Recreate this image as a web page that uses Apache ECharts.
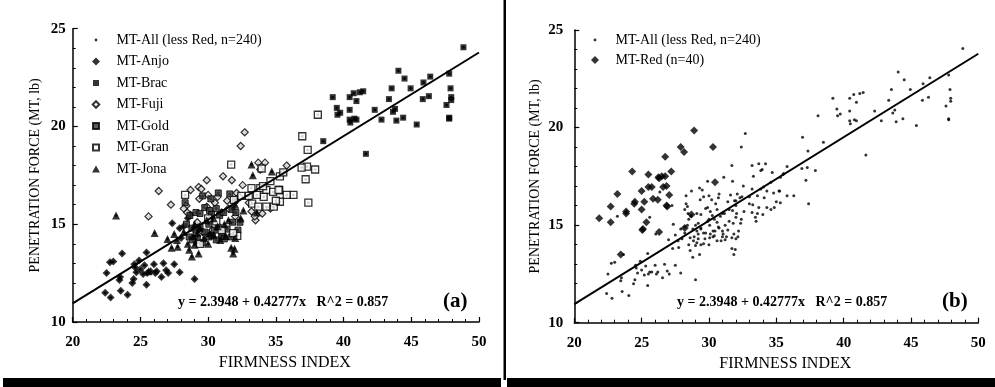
<!DOCTYPE html>
<html>
<head>
<meta charset="utf-8">
<script src="https://cdn.jsdelivr.net/npm/echarts@6/dist/echarts.min.js"></script>
<style>
  html, body { margin: 0; padding: 0; background: #fff; }
  #chart { width: 995px; height: 387px; }
</style>
</head>
<body>
<div id="chart"></div>
<script>
// Firmness index vs. Magness-Taylor penetration force, by cultivar
const xTicks = [20, 25, 30, 35, 40, 45, 50];
const yTicks = [10, 15, 20, 25];

const anjo = [
  [22.5,12.5],[22.4,11.5],[22.8,11.25],[22.75,13.05],[23.0,13.1],[23.45,12.15],[23.5,12.3],[23.55,11.6],
  [23.65,13.5],[24.05,11.4],[24.4,12.0],[24.5,12.2],[24.55,12.95],[24.9,13.15],[25.0,12.7],[25.3,12.9],
  [25.45,13.55],[25.45,11.9],[25.5,12.5],[25.75,12.6],[26.0,12.95],[26.1,12.5],[26.7,13.0],[26.9,12.65],
  [26.55,12.3],[27.05,12.5],[27.5,12.95],[27.9,12.55],[29.0,12.2],[25.2,12.45],[24.7,12.55],[26.2,12.6],
  [27.35,15.05],[27.9,14.8],[28.2,14.9],[28.5,15.3],[28.7,15.5],[28.0,14.3],[29.1,14.1],[24.6,12.8]
];
const brac = [
  [48.85,24.05],[44.05,22.85],[44.5,22.45],[43.55,21.95],[44.95,21.95],[45.9,22.25],[46.4,22.55],[47.8,22.7],
  [47.9,21.95],[47.95,21.5],[47.6,21.1],[47.8,20.4],[46.3,21.55],[45.85,21.4],[43.35,21.4],[43.65,20.75],
  [43.9,20.3],[44.4,20.45],[45.4,20.1],[42.8,20.35],[42.3,20.85],[41.45,21.8],[41.2,21.75],[40.75,21.7],
  [40.95,21.3],[40.45,21.5],[40.45,20.85],[40.45,20.35],[40.5,20.2],[40.95,20.35],[39.2,21.5],[39.5,20.95],
  [39.75,20.7],[39.55,20.6],[41.65,18.6],[38.5,19.25],[47.8,20.45],[47.95,21.35],[40.8,20.4],[43.8,20.9]
];
const fuji = [
  [25.6,15.4],[26.35,16.7],[27.25,16.0],[28.4,15.95],[28.7,16.75],[29.3,16.9],[29.9,17.25],[31.1,17.45],
  [31.75,17.25],[32.4,19.0],[32.7,19.7],[32.55,17.0],[33.7,18.15],[34.2,18.15],[35.8,18.0],[33.2,15.65],
  [33.5,15.2],[33.45,15.4],[29.5,16.8],[30.0,16.5],[28.2,15.8],[28.45,15.6],[29.9,15.9],[30.5,16.1],
  [31.4,16.2],[32.1,16.6],[29.2,15.1],[29.6,14.6],[30.3,14.7],[31.0,15.6],[31.5,15.8],[32.3,16.4],
  [33.85,17.8],[34.0,15.55],[29.35,16.3],[30.7,16.4],[33.0,16.1],[35.5,17.6],[34.6,15.8],[32.0,15.4]
];
const gold = [
  [30.75,16.6],[32.35,15.1],[28.65,15.45],[28.4,15.0],[28.8,14.8],[29.1,14.7],[29.4,14.85],[29.75,14.6],
  [30.05,15.0],[30.45,14.7],[30.75,14.85],[31.05,14.55],[31.4,14.75],[31.8,15.1],[32.2,14.7],[29.1,15.6],
  [29.4,15.55],[29.75,15.85],[30.1,15.7],[30.25,15.5],[30.6,15.8],[30.85,15.45],[31.15,15.6],[31.75,15.75],
  [32.05,15.6],[29.2,14.3],[29.6,14.05],[30.05,14.35],[30.3,14.4],[30.6,14.2],[31.0,14.4],[31.2,14.25],
  [31.7,14.35],[28.6,14.35],[28.85,14.2],[32.0,16.25],[31.6,16.55],[30.2,16.3],[29.6,16.45],[28.3,16.1]
];
const gran = [
  [28.3,16.5],[31.7,18.05],[36.95,19.5],[37.35,18.8],[38.1,20.6],[37.9,17.8],[37.3,17.95],[37.2,17.3],
  [37.4,16.1],[36.3,16.5],[35.8,16.5],[35.25,16.75],[33.85,16.85],[34.3,16.75],[34.8,16.65],[33.25,16.05],
  [33.7,15.9],[34.3,15.9],[34.85,15.9],[35.3,16.15],[34.1,16.4],[33.6,16.5],[34.6,17.2],[35.3,17.45],
  [35.55,17.65],[32.15,14.4],[31.85,14.55],[31.0,14.7],[30.6,15.15],[33.2,16.85],[34.05,16.95],[35.0,16.2],
  [33.0,16.45],[36.9,17.9],[35.2,16.75],[32.45,16.45],[33.95,17.85],[31.9,16.25],[30.0,15.3],[29.4,14.0]
];
const jona = [
  [23.2,15.45],[26.05,14.55],[27.3,13.8],[27.75,13.85],[28.8,13.35],[29.3,13.5],[29.2,14.55],[30.4,14.45],
  [31.85,13.5],[31.95,13.75],[33.2,18.05],[33.3,17.5],[34.7,17.7],[29.4,14.8],[27.7,14.2],[25.6,12.6],
  [27.0,14.25],[28.5,14.0],[29.0,13.95],[29.7,14.3],[30.1,14.55],[30.7,14.9],[31.3,14.4],[31.7,13.8],
  [32.0,14.3],[28.2,14.6],[29.9,15.2],[30.4,15.3],[31.2,15.0],[32.4,15.3],[32.6,15.7],[29.0,15.0],
  [28.9,14.4],[30.9,14.2],[31.5,15.2],[27.5,14.5],[33.6,15.6],[32.0,16.0],[30.0,14.0],[28.6,13.7]
];
const red = [
  [21.85,15.35],[22.7,15.95],[22.7,15.15],[23.2,16.6],[23.45,13.5],[23.85,15.7],[23.85,15.6],[24.3,17.75],
  [24.5,16.2],[25.0,16.75],[25.0,15.8],[25.1,14.8],[25.2,16.2],[25.35,15.15],[25.5,17.6],[25.5,16.95],
  [25.75,16.95],[25.85,16.35],[26.2,16.3],[26.25,17.45],[26.3,14.65],[26.5,17.5],[26.6,16.95],[26.75,17.5],
  [26.75,18.5],[26.85,17.0],[26.9,15.95],[27.05,16.55],[27.2,17.75],[27.9,19.0],[28.15,18.75],[28.9,19.85],
  [30.3,19.0],[30.45,17.2],[28.2,14.85],[28.7,15.55],[25.05,14.75],[26.85,16.0],[24.45,16.1],[26.3,17.4]
];
// all cultivars except Red Delicious (n = 240)
const mtAll = anjo.concat(brac, fuji, gold, gran, jona);

// least-squares fit on mtAll
const FIT_A = 2.3948;
const FIT_B = 0.42777;
const FIT_R2 = 0.857;
const fitLine = [[20, FIT_A + FIT_B * 20], [50, FIT_A + FIT_B * 50]];
const eqText = 'y = ' + FIT_A + ' + ' + FIT_B + 'x   R^2 = ' + FIT_R2;

const NAMES = {
  all: 'MT-All (less Red, n=240)', anjo: 'MT-Anjo', brac: 'MT-Brac', fuji: 'MT-Fuji',
  gold: 'MT-Gold', gran: 'MT-Gran', jona: 'MT-Jona', red: 'MT-Red (n=40)'
};

const SERIF = '"Liberation Serif", "DejaVu Serif", serif';

// Legend glyphs drawn in a 31x8 box (corner moves fix the box) so they are not stretched
const BOX = 'path://M0,0M31,8';
const ICON = {
  dot: BOX + 'M14.1,4a1.4,1.4 0 1,0 2.8,0a1.4,1.4 0 1,0 -2.8,0',
  diamond: BOX + 'M15.5,0L19.5,4L15.5,8L11.5,4Z',
  smallDiamond: BOX + 'M15.5,0.7L18.8,4L15.5,7.3L12.2,4Z',
  square: BOX + 'M12.5,1L18.5,1L18.5,7L12.5,7Z',
  triangle: BOX + 'M15.5,0.5L19.5,7.5L11.5,7.5Z'
};

function xAxisDef(gridIndex) {
  return {
    gridIndex, type: 'value', min: xTicks[0], max: xTicks[xTicks.length - 1], interval: 5,
    name: 'FIRMNESS INDEX', nameLocation: 'middle', nameGap: 26,
    nameTextStyle: { fontFamily: SERIF, fontSize: 16, color: '#000', padding: [0, 0, 0, 18] },
    axisLine: { lineStyle: { color: '#000', width: 1.5 } },
    axisTick: { inside: true, length: 5, lineStyle: { color: '#000', width: 1.2 } },
    minorTick: { show: true, splitNumber: 5, length: 3, lineStyle: { color: '#000', width: 1 } },
    splitLine: { show: false },
    axisLabel: { fontFamily: SERIF, fontWeight: 'bold', fontSize: 15, color: '#000', margin: 13 }
  };
}
function yAxisDef(gridIndex, gap, labelMargin) {
  return {
    gridIndex, type: 'value', min: yTicks[0], max: yTicks[yTicks.length - 1], interval: 5,
    name: 'PENETRATION FORCE (MT, lb)', nameLocation: 'middle', nameGap: gap,
    nameTextStyle: { fontFamily: SERIF, fontSize: 14, color: '#000' },
    axisLine: { lineStyle: { color: '#000', width: 1.5 } },
    axisTick: { inside: true, length: 5, lineStyle: { color: '#000', width: 1.2 } },
    minorTick: { show: true, splitNumber: 5, length: 3, lineStyle: { color: '#000', width: 1 } },
    splitLine: { show: false },
    axisLabel: { fontFamily: SERIF, fontWeight: 'bold', fontSize: 15, color: '#000', margin: labelMargin }
  };
}

function scatter(name, data, idx, symbol, size, style) {
  return {
    type: 'scatter', name, data, xAxisIndex: idx, yAxisIndex: idx,
    symbol, symbolSize: size, itemStyle: style, z: 3,
    emphasis: { disabled: true }, animation: false
  };
}
function fit(idx) {
  return {
    type: 'line', data: fitLine, xAxisIndex: idx, yAxisIndex: idx, symbol: 'none',
    lineStyle: { color: '#000', width: 2 }, z: 4, silent: true, animation: false
  };
}

const solid = { color: '#000' };
const hollow = { color: '#fff', borderColor: '#000', borderWidth: 1.3 };
const goldStyle = { color: '#333', borderColor: '#000', borderWidth: 1 };

const legendCommon = {
  orient: 'vertical', itemWidth: 31, itemHeight: 8, padding: 0,
  textStyle: { fontFamily: SERIF, fontSize: 14, color: '#000', lineHeight: 16 },
  selectedMode: false
};

const option = {
  backgroundColor: '#fff',
  animation: false,
  grid: [
    { left: 72.7, top: 28.7, width: 406.3, height: 293.3 },
    { left: 574.3, top: 30, width: 404, height: 292.7 }
  ],
  xAxis: [xAxisDef(0), xAxisDef(1)],
  yAxis: [yAxisDef(0, 30, 7), yAxisDef(1, 32, 11)],
  legend: [
    Object.assign({}, legendCommon, {
      left: 79.5, top: 32, itemGap: 5.5,
      data: [
        { name: NAMES.all, icon: ICON.dot },
        { name: NAMES.anjo, icon: ICON.diamond },
        { name: NAMES.brac, icon: ICON.square },
        { name: NAMES.fuji, icon: ICON.smallDiamond },
        { name: NAMES.gold, icon: ICON.square },
        { name: NAMES.gran, icon: ICON.square },
        { name: NAMES.jona, icon: ICON.triangle }
      ]
    }),
    Object.assign({}, legendCommon, {
      left: 579.5, top: 32, itemGap: 4,
      data: [
        { name: NAMES.all, icon: ICON.dot },
        { name: NAMES.red, icon: ICON.diamond }
      ]
    })
  ],
  series: [
    // panel (a): cultivars
    scatter(NAMES.all, mtAll, 0, 'circle', 3, solid),
    scatter(NAMES.anjo, anjo, 0, 'diamond', 8, solid),
    scatter(NAMES.brac, brac, 0, 'rect', 6, solid),
    scatter(NAMES.fuji, fuji, 0, 'diamond', 7, hollow),
    scatter(NAMES.gold, gold, 0, 'rect', 6, goldStyle),
    scatter(NAMES.gran, gran, 0, 'rect', 7, hollow),
    scatter(NAMES.jona, jona, 0, 'triangle', 8, solid),
    fit(0),
    // panel (b): all vs Red Delicious
    scatter(NAMES.all, mtAll, 1, 'circle', 3, solid),
    scatter(NAMES.red, red, 1, 'diamond', 8, solid),
    fit(1)
  ],
  graphic: [
    { type: 'text', left: 178, top: 295, style: { text: eqText, font: 'bold 14px ' + SERIF, fill: '#000' } },
    { type: 'text', left: 443, top: 291, style: { text: '(a)', font: 'bold 21px ' + SERIF, fill: '#000' } },
    { type: 'text', left: 677, top: 295, style: { text: eqText, font: 'bold 14px ' + SERIF, fill: '#000' } },
    { type: 'text', left: 942, top: 291, style: { text: '(b)', font: 'bold 21px ' + SERIF, fill: '#000' } },
    // panel divider and bottom rules
    { type: 'rect', shape: { x: 503.5, y: 0, width: 2.5, height: 380 }, style: { fill: '#000' } },
    { type: 'rect', shape: { x: 3, y: 378, width: 498, height: 9 }, style: { fill: '#000' } },
    { type: 'rect', shape: { x: 507, y: 378, width: 488, height: 9 }, style: { fill: '#000' } }
  ]
};

const chart = echarts.init(document.getElementById('chart'), null, { renderer: 'canvas' });
chart.setOption(option);
</script>
</body>
</html>
